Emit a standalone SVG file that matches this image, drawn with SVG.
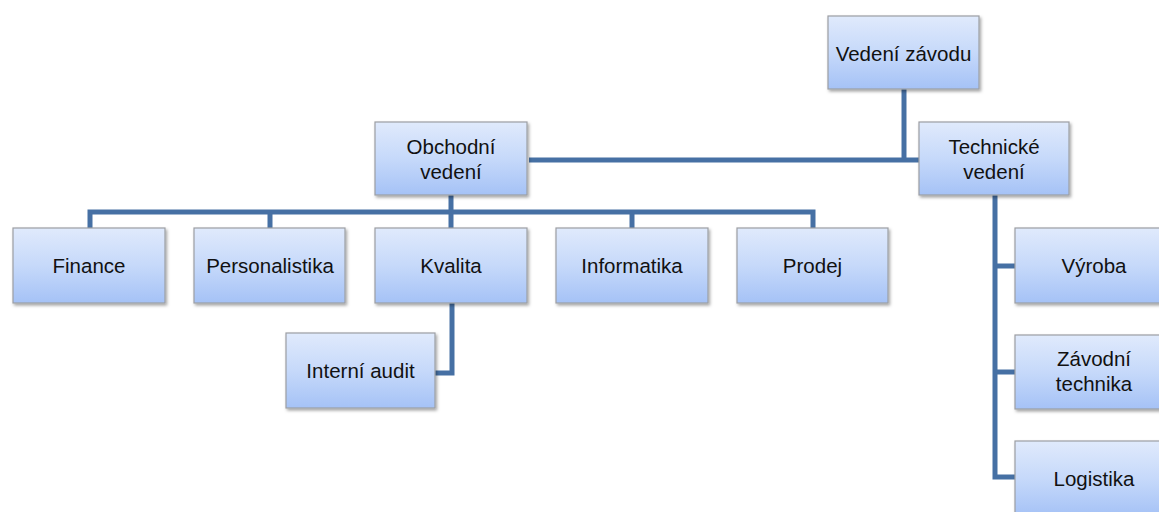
<svg xmlns="http://www.w3.org/2000/svg" width="1159" height="512" viewBox="0 0 1159 512">
<defs>
<linearGradient id="g" x1="0" y1="0" x2="0" y2="1">
<stop offset="0" stop-color="#e0eafc"/>
<stop offset="0.5" stop-color="#c6d9fa"/>
<stop offset="1" stop-color="#a5c2f6"/>
</linearGradient>
<filter id="sh" x="-10%" y="-10%" width="130%" height="140%">
<feDropShadow dx="1.5" dy="2" stdDeviation="1.5" flood-color="#000" flood-opacity="0.35"/>
</filter>
</defs>
<style>
.box{fill:url(#g);stroke:#9c9ea3;stroke-width:1.2;filter:url(#sh)}
.t{font-family:"Liberation Sans",Arial,sans-serif;font-size:20.5px;fill:#111;text-anchor:middle}
.c{fill:none;stroke:#4670a4;stroke-width:5;stroke-linejoin:miter}
</style>
<rect width="1159" height="512" fill="#fff"/>
<g id="connectors">
<path class="c" d="M904 89V160"/>
<path class="c" d="M529 160H919"/>
<path class="c" d="M451 195V212M90 228V212H813V228M270 212V228M632 212V228M451 212V228"/>
<path class="c" d="M452 303V373H435"/>
<path class="c" d="M995 195V477H1015M995 266H1015M995 372H1015"/>
</g>
<g id="n-vedeni-zavodu"><rect class="box" x="828" y="16" width="151" height="73"/><text class="t" x="903.5" y="61">Vedení závodu</text></g>
<g id="n-obchodni"><rect class="box" x="375" y="122" width="152" height="73"/><text class="t" x="451" y="154">Obchodní</text><text class="t" x="451" y="179">vedení</text></g>
<g id="n-technicke"><rect class="box" x="919" y="122" width="150" height="73"/><text class="t" x="994" y="154">Technické</text><text class="t" x="994" y="179">vedení</text></g>
<g id="n-finance"><rect class="box" x="13" y="228" width="152" height="75"/><text class="t" x="89" y="273">Finance</text></g>
<g id="n-personalistika"><rect class="box" x="194" y="228" width="151" height="75"/><text class="t" x="270" y="273">Personalistika</text></g>
<g id="n-kvalita"><rect class="box" x="375" y="228" width="152" height="75"/><text class="t" x="451" y="273">Kvalita</text></g>
<g id="n-informatika"><rect class="box" x="556" y="228" width="152" height="75"/><text class="t" x="632" y="273">Informatika</text></g>
<g id="n-prodej"><rect class="box" x="737" y="228" width="151" height="75"/><text class="t" x="812.5" y="273">Prodej</text></g>
<g id="n-interni-audit"><rect class="box" x="286" y="333" width="149" height="75"/><text class="t" x="360.5" y="378">Interní audit</text></g>
<g id="n-vyroba"><rect class="box" x="1015" y="228" width="151" height="75"/><text class="t" x="1094" y="273">Výroba</text></g>
<g id="n-zavodni-technika"><rect class="box" x="1015" y="335" width="151" height="74"/><text class="t" x="1094" y="366">Závodní</text><text class="t" x="1094" y="391">technika</text></g>
<g id="n-logistika"><rect class="box" x="1015" y="441" width="151" height="75"/><text class="t" x="1094" y="486">Logistika</text></g>
</svg>
